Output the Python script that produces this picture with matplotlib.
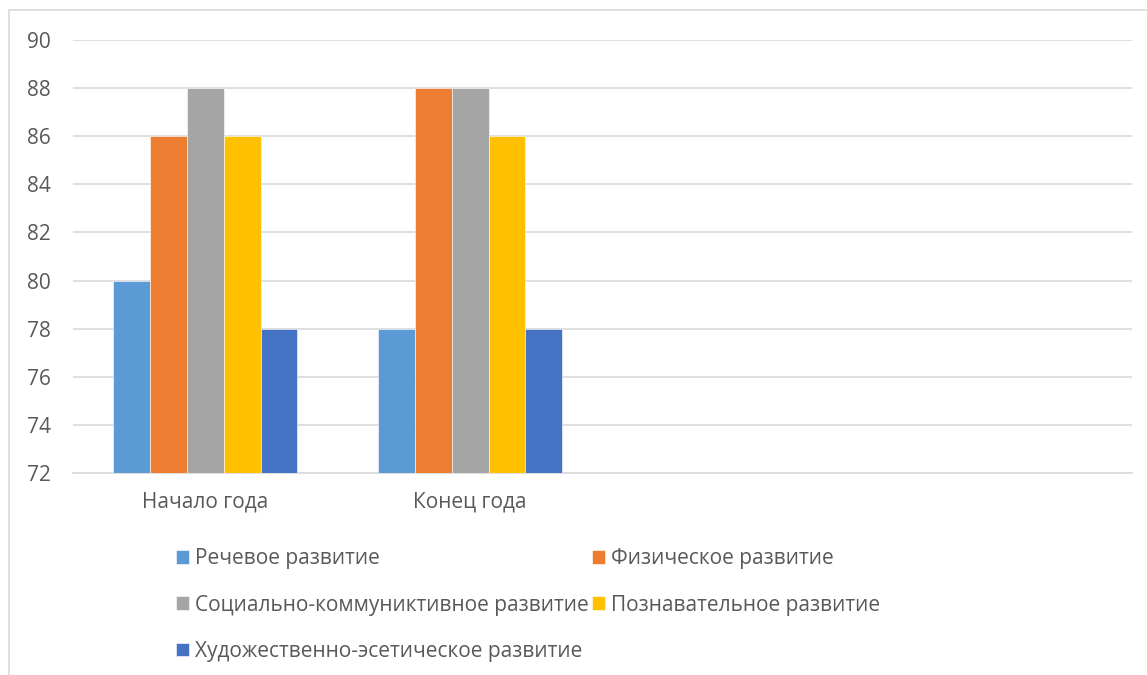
import matplotlib.pyplot as plt
import matplotlib.patches as mpatches
import numpy as np

plt.rcParams['font.family'] = ['Open Sans', 'DejaVu Sans']

# categories (the last two are empty in the source sheet)
categories = ["Начало года", "Конец года", "", ""]
series_names = ["Речевое развитие", "Физическое развитие",
                "Социально-коммуниктивное развитие", "Познавательное развитие",
                "Художественно-эсетическое развитие"]
rech = [80, 78, np.nan, np.nan]
fiz = [86, 88, np.nan, np.nan]
soc = [88, 88, np.nan, np.nan]
poz = [86, 86, np.nan, np.nan]
hud = [78, 78, np.nan, np.nan]
colors = ["#5B9BD5", "#ED7D31", "#A5A5A5", "#FFC000", "#4472C4"]

fig = plt.figure(figsize=(11.47, 6.75), dpi=100)
ax = fig.add_axes([0.0636, 0.2993, 0.9234, 0.6414])

x = np.arange(len(categories))
n = 5
gap = 2.19
w = 1 / (n + gap)
handles = []
for i, vals in enumerate([rech, fiz, soc, poz, hud]):
    vals = np.array(vals, dtype=float)
    h = ax.bar(x + (i - 2) * w, vals - 72, bottom=72, width=w,
               color=colors[i], edgecolor="white", linewidth=0.4,
               label=series_names[i], zorder=3)
    handles.append(h)

ax.set_xlim(-0.5, len(categories) - 0.5)
ax.set_ylim(72, 90)
ax.set_yticks(range(72, 91, 2))
ax.set_xticks(x)
ax.set_xticklabels(categories)
ax.grid(axis="y", color="#D9D9D9", linewidth=1.2, zorder=0)
for s in ["top", "right", "left"]:
    ax.spines[s].set_visible(False)
ax.spines["bottom"].set_color("#D9D9D9")
ax.spines["bottom"].set_linewidth(1.2)
ax.tick_params(axis="both", length=0, colors="#595959", labelsize=15)
ax.tick_params(axis="y", pad=16)
ax.tick_params(axis="x", pad=13)

order = [0, 2, 4, 1, 3]
leg = fig.legend([handles[i] for i in order], [series_names[i] for i in order],
                 ncol=2, loc="upper left", bbox_to_anchor=(0.1535, 0.188),
                 frameon=False, fontsize=15, handlelength=0.62, handleheight=0.62,
                 handletextpad=0.3, columnspacing=0.15, labelspacing=1.22,
                 borderaxespad=0, borderpad=0)
for t in leg.get_texts():
    t.set_color("#595959")

# chart area frame (cropped on the right and bottom)
fig.patches.append(mpatches.Rectangle((9 / 1147, -0.05), 1.2, 1 - 10 / 675 + 0.05,
                                      transform=fig.transFigure, fill=False,
                                      edgecolor="#D9D9D9", linewidth=1.2))

fig.savefig("out.png", dpi=100)
